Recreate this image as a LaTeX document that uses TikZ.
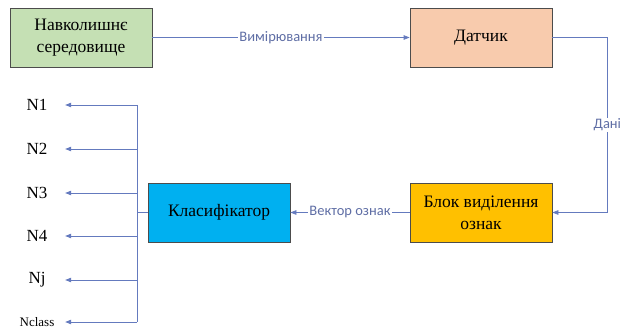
\documentclass[tikz,border=0pt]{standalone}
\usepackage{fontspec}
\setmainfont{Liberation Serif}
\newfontfamily\boxfont{Liberation Serif}
\newfontfamily\labelfont{Carlito}
\usetikzlibrary{arrows.meta,positioning}
\definecolor{EnvGreen}{RGB}{197,224,180}
\definecolor{SensPeach}{RGB}{248,203,173}
\definecolor{FeatGold}{RGB}{255,192,0}
\definecolor{ClsBlue}{RGB}{0,176,240}
\definecolor{LinkBlue}{RGB}{100,122,190}
\definecolor{LinkText}{RGB}{95,110,165}

\begin{document}
\begin{tikzpicture}[x=1pt,y=-1pt,
  block/.style={draw=black!70,line width=0.7pt,minimum width=142pt,minimum height=59pt,
                align=center,font=\boxfont\fontsize{17.5}{22}\selectfont,inner sep=2pt},
  link/.style={draw=LinkBlue,line width=0.7pt,-{Triangle[length=6pt,width=4.5pt]}},
  bus/.style={draw=LinkBlue,line width=0.7pt},
  tag/.style={font=\labelfont\fontsize{14.5}{16}\selectfont,text=LinkText,fill=white,inner sep=1pt},
  outp/.style={minimum width=56pt,inner sep=0pt,align=center,font=\boxfont\fontsize{17}{19}\selectfont},
]
\useasboundingbox (0,0) rectangle (620,331);
\node[block,fill=EnvGreen] (env) at (81,37.5) {Навколишнє\\середовище};
\node[block,fill=SensPeach] (sensor) at (481,37.5) {Датчик};
\node[block,fill=FeatGold] (feat) at (481,212.5) {Блок виділення\\ознак};
\node[block,fill=ClsBlue] (cls) at (219,212.5) {Класифікатор};
\draw[link] (env) -- (sensor)
  node[tag,midway]{Вимірювання};
\draw[link] (sensor.east) -- ++(55,0) |- (feat.east)
  node[tag,pos=0.25]{Дані};
\draw[link] (feat) -- (cls)
  node[tag,midway]{Вектор ознак};
% outputs of the classifier
\foreach \nm/\txt/\yy in {n1/N1/105,n2/N2/149,n3/N3/193,n4/N4/236,nj/Nj/280}{
  \node[outp] (\nm) at (37,\yy) {\txt};
  \coordinate (b\nm) at (137,\yy);
  \draw[link] (b\nm) -- (\nm);
}
\node[outp,font=\boxfont\fontsize{13}{15}\selectfont] (nclass) at (37,322) {Nclass};
\coordinate (bnclass) at (137,322);
\draw[link] (bnclass) -- (nclass);
\draw[bus] (bn1) -- (bnclass);
\draw[bus] (cls.west) -- (cls.west -| bn1);
\end{tikzpicture}
\end{document}
